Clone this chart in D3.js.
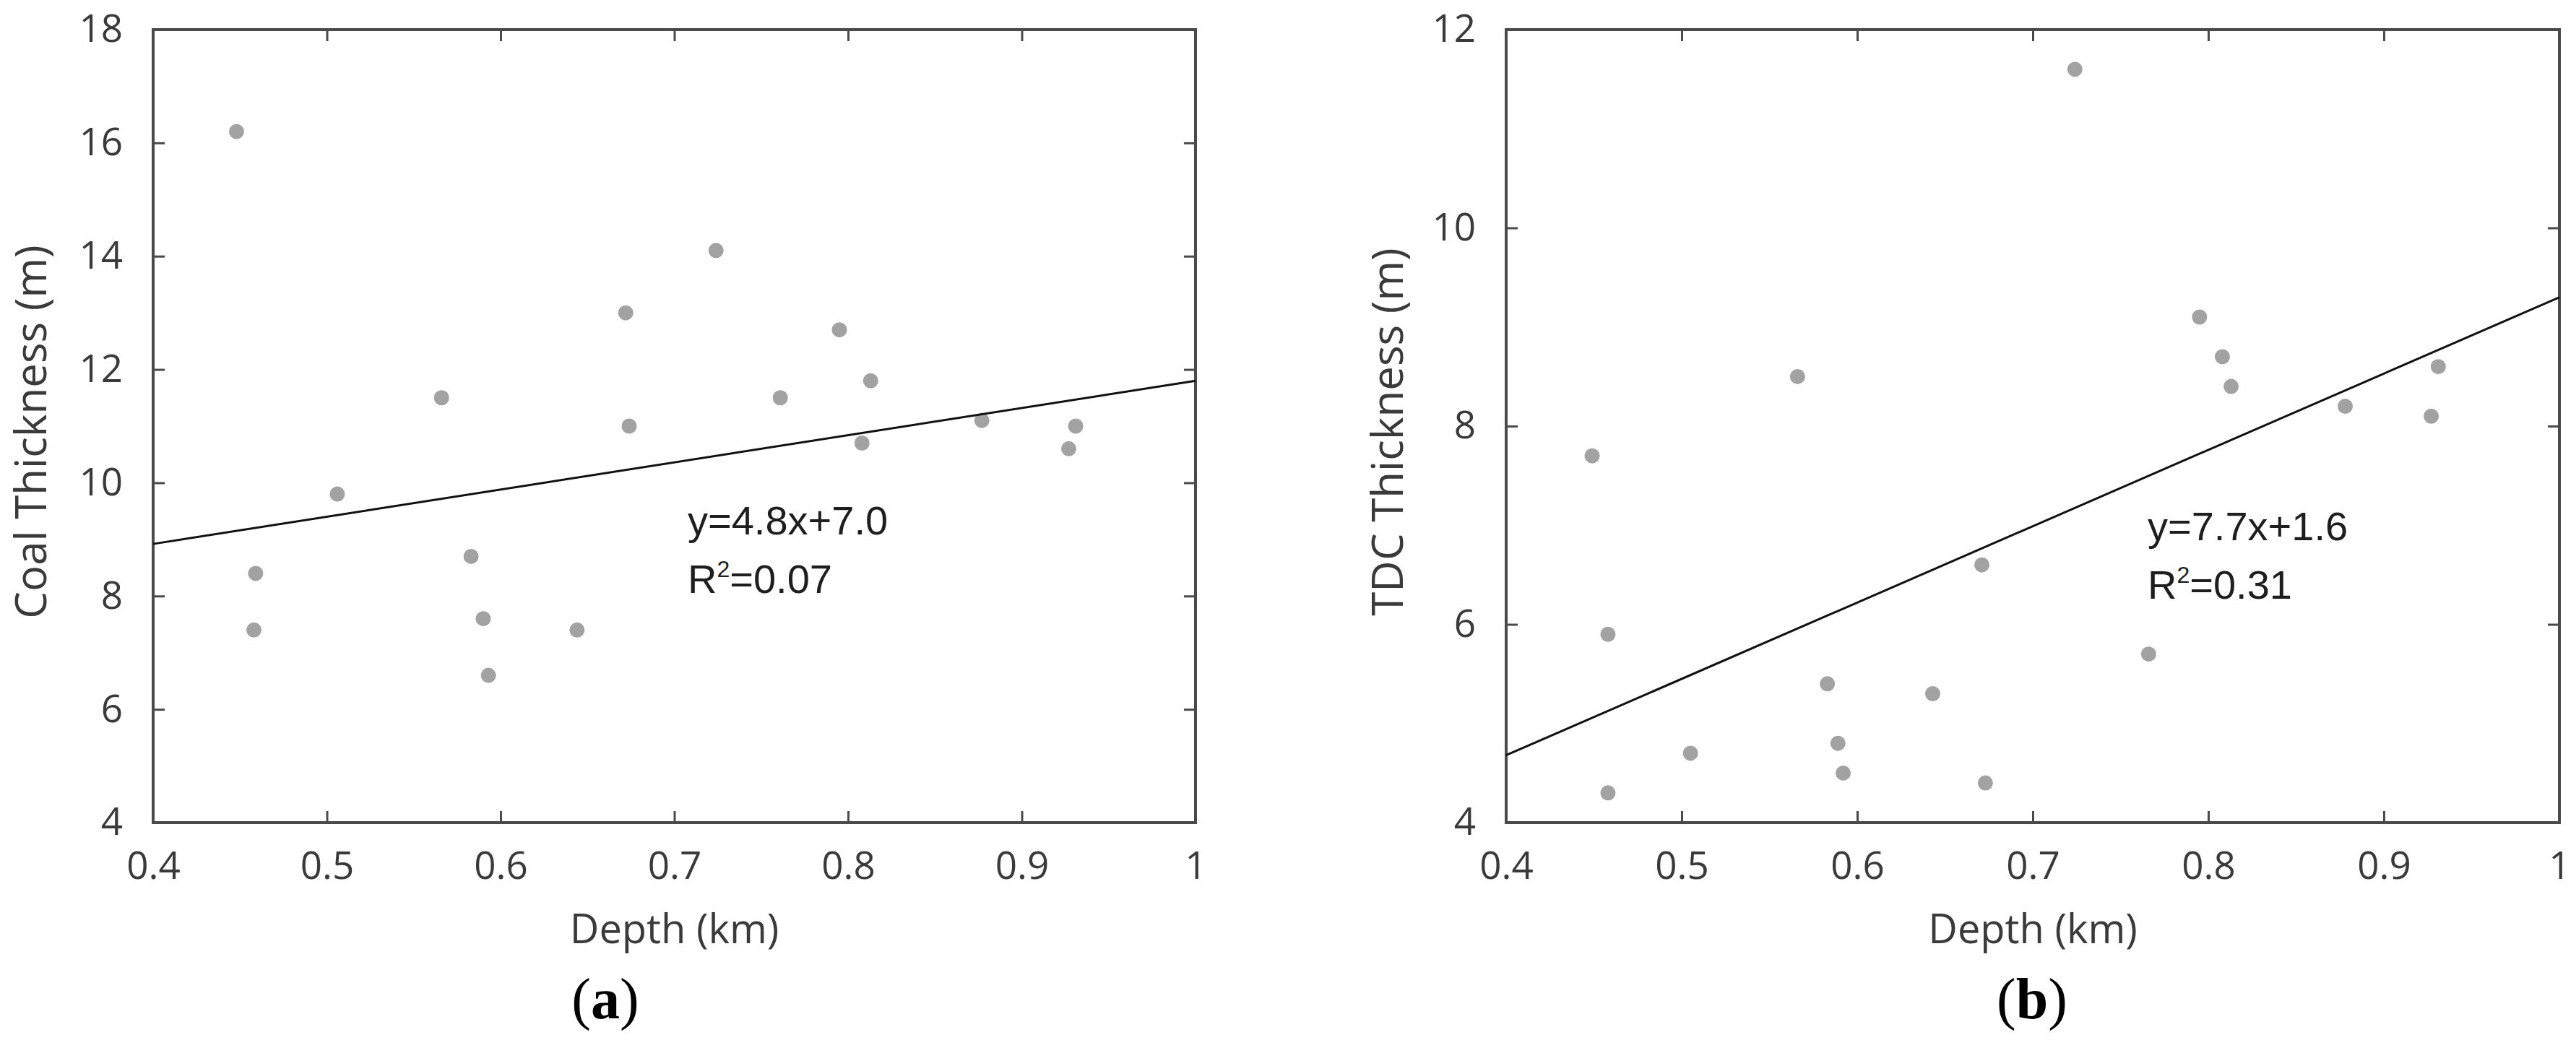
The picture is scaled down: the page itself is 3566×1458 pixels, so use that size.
<!DOCTYPE html>
<html>
<head>
<meta charset="utf-8">
<script src="https://cdn.jsdelivr.net/npm/d3@7"></script>
<style>
  html, body { margin: 0; padding: 0; background: #ffffff; }
  svg { display: block; }
</style>
</head>
<body>
<svg id="chart" width="3566" height="1458"></svg>
<script>
// ---------- data ----------
const depthA = [0.448, 0.459, 0.458, 0.506, 0.566, 0.583, 0.590, 0.593, 0.644, 0.672, 0.674,
                0.724, 0.761, 0.795, 0.813, 0.808, 0.877, 0.931, 0.927];
const coalThickness = [16.2, 8.4, 7.4, 9.8, 11.5, 8.7, 7.6, 6.6, 7.4, 13.0, 11.0,
                       14.1, 11.5, 12.7, 11.8, 10.7, 11.1, 11.0, 10.6];

const depthB = [0.449, 0.458, 0.458, 0.505, 0.566, 0.583, 0.589, 0.592, 0.643, 0.671, 0.673,
                0.724, 0.766, 0.795, 0.808, 0.813, 0.878, 0.931, 0.927];
const tdcThickness = [7.7, 5.9, 4.3, 4.7, 8.5, 5.4, 4.8, 4.5, 5.3, 6.6, 4.4,
                      11.6, 5.7, 9.1, 8.7, 8.4, 8.2, 8.6, 8.1];

const xTicks = [0.4, 0.5, 0.6, 0.7, 0.8, 0.9, 1.0];
const xTickLabels = ["0.4", "0.5", "0.6", "0.7", "0.8", "0.9", "1"];
const yTicksA = [4, 6, 8, 10, 12, 14, 16, 18];
const yTicksB = [4, 6, 8, 10, 12];

const fitSlopes = [4.8, 7.7];
const fitIntercepts = [7.0, 1.6];
const fitEquations = ["y=4.8x+7.0", "y=7.7x+1.6"];
const fitR2 = ["0.07", "0.31"];

const xTitles = ["Depth (km)", "Depth (km)"];
const yTitles = ["Coal Thickness (m)", "TDC Thickness (m)"];
const panelLetters = ["a", "b"];

// ---------- layout ----------
const svg = d3.select("#chart");
const plotTop = 41, plotBottom = 1139;
const panels = [
  { x0: 212, x1: 1655, xs: depthA, ys: coalThickness, yDomain: [4, 18], yTicks: yTicksA,
    annX: 952, annY: 740, letterX: 838, titleX: 64 },
  { x0: 2085, x1: 3543, xs: depthB, ys: tdcThickness, yDomain: [4, 12], yTicks: yTicksB,
    annX: 2973, annY: 748, letterX: 2813, titleX: 1942 }
];

const axisColor = "#4a4a4a";
const labelColor = "#3a3a3a";
const tickLen = 16;
const sansFont = "'Open Sans', 'Noto Sans', sans-serif";

panels.forEach((p, i) => {
  const x = d3.scaleLinear().domain([0.4, 1.0]).range([p.x0, p.x1]);
  const y = d3.scaleLinear().domain(p.yDomain).range([plotBottom, plotTop]);
  const g = svg.append("g");
  const fmt = (d) => xTickLabels[xTicks.indexOf(d)];

  const bx = g.append("g").attr("transform", `translate(0,${plotBottom})`)
    .call(d3.axisBottom(x).tickValues(xTicks).tickFormat(fmt)
      .tickSizeInner(-tickLen).tickSizeOuter(0).tickPadding(40));
  const tx = g.append("g").attr("transform", `translate(0,${plotTop})`)
    .call(d3.axisTop(x).tickValues(xTicks).tickFormat("")
      .tickSizeInner(-tickLen).tickSizeOuter(0));
  const ly = g.append("g").attr("transform", `translate(${p.x0},0)`)
    .call(d3.axisLeft(y).tickValues(p.yTicks).tickFormat(d3.format("d"))
      .tickSizeInner(-tickLen).tickSizeOuter(0).tickPadding(42));
  const ry = g.append("g").attr("transform", `translate(${p.x1},0)`)
    .call(d3.axisRight(y).tickValues(p.yTicks).tickFormat("")
      .tickSizeInner(-tickLen).tickSizeOuter(0));

  [bx, tx, ly, ry].forEach(a => {
    a.select(".domain").remove();
    a.selectAll(".tick line").attr("stroke", axisColor).attr("stroke-width", 3);
    a.selectAll(".tick text")
      .attr("fill", labelColor)
      .style("font-family", sansFont)
      .style("font-size", "53px");
  });

  g.append("rect")
    .attr("x", p.x0).attr("y", plotTop)
    .attr("width", p.x1 - p.x0).attr("height", plotBottom - plotTop)
    .attr("fill", "none").attr("stroke", axisColor).attr("stroke-width", 4);

  const pts = p.xs.map((d, k) => ({ x: d, y: p.ys[k] }));
  g.append("g").selectAll("circle").data(pts).join("circle")
    .attr("cx", d => x(d.x)).attr("cy", d => y(d.y)).attr("r", 10.5)
    .attr("fill", "#a2a2a2");

  const fitX = [0.4, 1.0];
  const line = d3.line().x(d => x(d)).y(d => y(fitSlopes[i] * d + fitIntercepts[i]));
  g.append("path").datum(fitX).attr("d", line)
    .attr("fill", "none").attr("stroke", "#111").attr("stroke-width", 3);

  const annFont = "'Liberation Sans', Arial, sans-serif";
  const ann = g.append("text")
    .attr("x", p.annX).attr("y", p.annY)
    .attr("fill", "#1e1e1e")
    .style("font-family", annFont)
    .style("font-size", "56px");
  ann.append("tspan").text(fitEquations[i]);
  const ann2 = g.append("text")
    .attr("x", p.annX).attr("y", p.annY + 81)
    .attr("fill", "#1e1e1e")
    .style("font-family", annFont)
    .style("font-size", "56px");
  ann2.append("tspan").text("R");
  ann2.append("tspan").text("2").attr("dy", -22).style("font-size", "32px");
  ann2.append("tspan").text("=" + fitR2[i]).attr("dy", 22);

  g.append("text")
    .attr("x", (p.x0 + p.x1) / 2).attr("y", 1306)
    .attr("text-anchor", "middle")
    .attr("fill", labelColor)
    .style("font-family", sansFont).style("font-size", "56px")
    .text(xTitles[i]);
  g.append("text")
    .attr("transform", `translate(${p.titleX},${(plotTop + plotBottom) / 2 + 8}) rotate(-90)`)
    .attr("text-anchor", "middle")
    .attr("fill", labelColor)
    .style("font-family", sansFont).style("font-size", "60px")
    .text(yTitles[i]);

  const lt = g.append("text")
    .attr("x", p.letterX).attr("y", 1410)
    .attr("text-anchor", "middle")
    .attr("fill", "#000")
    .style("font-family", "'Liberation Serif', 'DejaVu Serif', serif")
    .style("font-size", "80px");
  lt.append("tspan").text("(");
  lt.append("tspan").text(panelLetters[i]).style("font-weight", "bold");
  lt.append("tspan").text(")");
});
</script>
</body>
</html>
